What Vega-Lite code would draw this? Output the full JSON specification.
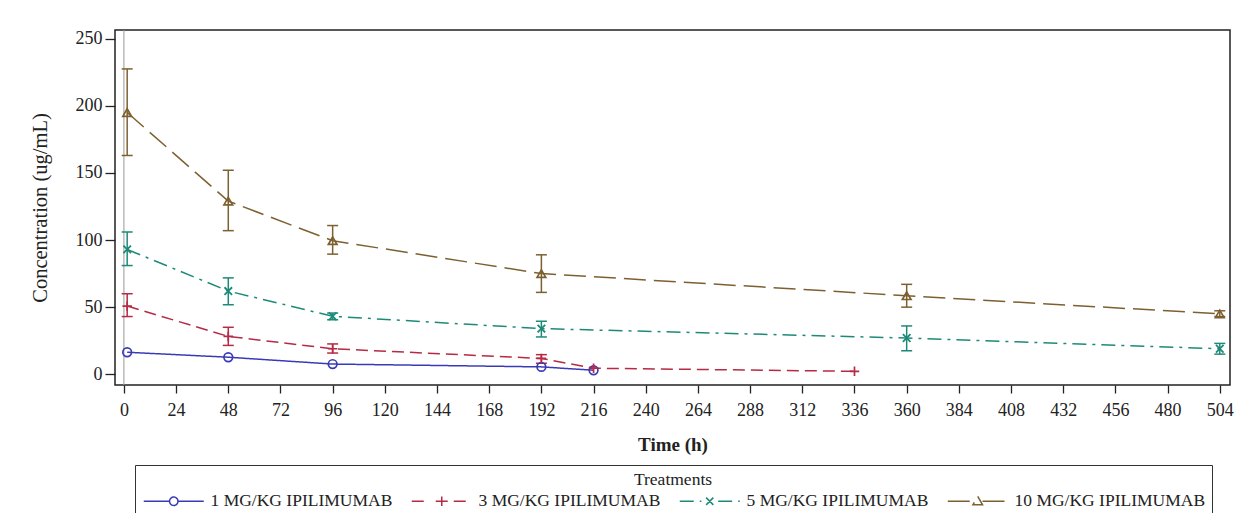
{
  "$schema": "https://vega.github.io/schema/vega-lite/v6.json",
  "autosize": {"type": "none"},
  "padding": {"left": 115, "top": 30, "right": 4, "bottom": 128},
  "width": 1115,
  "height": 355,
  "background": "white",
  "config": {
    "font": "Liberation Serif",
    "view": {"stroke": "#222", "strokeWidth": 1.5},
    "axis": {
      "grid": false,
      "domain": false,
      "tickColor": "#222",
      "tickWidth": 1.3,
      "labelColor": "#222",
      "titleColor": "#222",
      "labelFont": "Liberation Serif",
      "titleFont": "Liberation Serif",
      "labelFontSize": 18
    }
  },
  "layer": [
    {
      "data": {"values": [{"t": 0}]},
      "mark": {"type": "rule", "color": "#999", "strokeWidth": 1},
      "encoding": {
        "x": {"field": "t", "type": "quantitative", "scale": {"domain": [-4.1, 508.7], "nice": false, "zero": false}}
      }
    },
    {
      "data": {
        "values": [
          {"treatment": "1 MG/KG IPILIMUMAB", "time": 1.5, "conc": 16.4},
          {"treatment": "1 MG/KG IPILIMUMAB", "time": 48, "conc": 12.7},
          {"treatment": "1 MG/KG IPILIMUMAB", "time": 96, "conc": 7.6},
          {"treatment": "1 MG/KG IPILIMUMAB", "time": 192, "conc": 5.5},
          {"treatment": "1 MG/KG IPILIMUMAB", "time": 216, "conc": 3.0},
          {"treatment": "3 MG/KG IPILIMUMAB", "time": 1.5, "conc": 50.8, "lo": 43, "hi": 60},
          {"treatment": "3 MG/KG IPILIMUMAB", "time": 48, "conc": 28.2, "lo": 21.5, "hi": 35},
          {"treatment": "3 MG/KG IPILIMUMAB", "time": 96, "conc": 19, "lo": 15.8, "hi": 22.6},
          {"treatment": "3 MG/KG IPILIMUMAB", "time": 192, "conc": 11.8, "lo": 8.2, "hi": 14.6},
          {"treatment": "3 MG/KG IPILIMUMAB", "time": 216, "conc": 4.5},
          {"treatment": "3 MG/KG IPILIMUMAB", "time": 336, "conc": 2.2},
          {"treatment": "5 MG/KG IPILIMUMAB", "time": 1.5, "conc": 93, "lo": 81, "hi": 106},
          {"treatment": "5 MG/KG IPILIMUMAB", "time": 48, "conc": 62, "lo": 51.8, "hi": 71.8},
          {"treatment": "5 MG/KG IPILIMUMAB", "time": 96, "conc": 43.2, "lo": 40.6, "hi": 45.6},
          {"treatment": "5 MG/KG IPILIMUMAB", "time": 192, "conc": 34, "lo": 27.8, "hi": 39.5},
          {"treatment": "5 MG/KG IPILIMUMAB", "time": 360, "conc": 27, "lo": 17.5, "hi": 36},
          {"treatment": "5 MG/KG IPILIMUMAB", "time": 504, "conc": 19, "lo": 15, "hi": 23},
          {"treatment": "10 MG/KG IPILIMUMAB", "time": 1.5, "conc": 195, "lo": 163, "hi": 227.5},
          {"treatment": "10 MG/KG IPILIMUMAB", "time": 48, "conc": 129, "lo": 107, "hi": 152},
          {"treatment": "10 MG/KG IPILIMUMAB", "time": 96, "conc": 99.5, "lo": 89.5, "hi": 110.8},
          {"treatment": "10 MG/KG IPILIMUMAB", "time": 192, "conc": 75, "lo": 61, "hi": 89},
          {"treatment": "10 MG/KG IPILIMUMAB", "time": 360, "conc": 58.5, "lo": 50, "hi": 67},
          {"treatment": "10 MG/KG IPILIMUMAB", "time": 504, "conc": 45, "lo": 43, "hi": 47.3}
        ]
      },
      "encoding": {
        "x": {
          "field": "time",
          "type": "quantitative",
          "title": "Time (h)",
          "scale": {"domain": [-4.1, 508.7], "nice": false, "zero": false},
          "axis": {
            "values": [0, 24, 48, 72, 96, 120, 144, 168, 192, 216, 240, 264, 288, 312, 336, 360, 384, 408, 432, 456, 480, 504],
            "tickSize": 8,
            "labelPadding": 8,
            "titleFontSize": 19,
            "titleFontWeight": "bold",
            "titlePadding": 16
          }
        },
        "color": {
          "field": "treatment",
          "type": "nominal",
          "scale": {
            "domain": ["1 MG/KG IPILIMUMAB", "3 MG/KG IPILIMUMAB", "5 MG/KG IPILIMUMAB", "10 MG/KG IPILIMUMAB"],
            "range": ["#3a3ab8", "#b52a44", "#1d8a78", "#7d6030"]
          },
          "legend": {
            "title": "Treatments",
            "orient": "none",
            "legendX": 20,
            "legendY": 435,
            "direction": "horizontal",
            "columns": 4,
            "gridAlign": "none",
            "titleAnchor": "middle",
            "titleFontWeight": "normal",
            "titleFontSize": 17.5,
            "titleFont": "Liberation Serif",
            "titleColor": "#222",
            "titlePadding": 4,
            "labelFont": "Liberation Serif",
            "labelFontSize": 17.5,
            "labelColor": "#222",
            "labelLimit": 400,
            "symbolSize": 144,
            "symbolStrokeWidth": 1.5,
            "symbolFillColor": "transparent",
            "symbolOffset": 24,
            "labelOffset": 28,
            "columnPadding": 15,
            "padding": 6,
            "strokeColor": "#333"
          }
        }
      },
      "layer": [
        {
          "mark": {"type": "rule", "strokeWidth": 1.5},
          "encoding": {
            "y": {"field": "lo", "type": "quantitative"},
            "y2": {"field": "hi"}
          }
        },
        {
          "mark": {"type": "rule", "strokeWidth": 1.5, "xOffset": -5.5, "x2Offset": 5.5},
          "encoding": {"x2": {"field": "time"}, "y": {"field": "lo", "type": "quantitative"}}
        },
        {
          "mark": {"type": "rule", "strokeWidth": 1.5, "xOffset": -5.5, "x2Offset": 5.5},
          "encoding": {"x2": {"field": "time"}, "y": {"field": "hi", "type": "quantitative"}}
        },
        {
          "mark": {"type": "line", "strokeWidth": 1.5},
          "encoding": {
            "y": {
              "field": "conc",
              "type": "quantitative",
              "title": "Concentration (ug/mL)",
              "scale": {"domain": [-8, 256.5], "nice": false, "zero": false},
              "axis": {
                "values": [0, 50, 100, 150, 200, 250],
                "tickSize": 10,
                "labelPadding": 3,
                "titleFontSize": 20.5,
                "titleFontWeight": "normal",
                "titlePadding": 25
              }
            },
            "strokeDash": {
              "field": "treatment",
              "type": "nominal",
              "scale": {
                "domain": ["1 MG/KG IPILIMUMAB", "3 MG/KG IPILIMUMAB", "5 MG/KG IPILIMUMAB", "10 MG/KG IPILIMUMAB"],
                "range": [[1, 0], [12, 6], [14, 6, 3, 6], [22, 8]]
              },
              "legend": null
            }
          }
        },
        {
          "transform": [{"filter": "datum.treatment === '1 MG/KG IPILIMUMAB'"}],
          "mark": {"type": "point", "shape": "circle", "filled": false, "size": 75, "strokeWidth": 1.7, "opacity": 1},
          "encoding": {"y": {"field": "conc", "type": "quantitative"}}
        },
        {
          "transform": [{"filter": "datum.treatment === '3 MG/KG IPILIMUMAB'"}],
          "mark": {"type": "point", "shape": "M-1,0H1M0,-1V1", "filled": false, "size": 90, "strokeWidth": 1.7, "opacity": 1},
          "encoding": {"y": {"field": "conc", "type": "quantitative"}}
        },
        {
          "transform": [{"filter": "datum.treatment === '5 MG/KG IPILIMUMAB'"}],
          "mark": {"type": "point", "shape": "M-0.8,-0.8L0.8,0.8M-0.8,0.8L0.8,-0.8", "filled": false, "size": 90, "strokeWidth": 1.8, "opacity": 1},
          "encoding": {"y": {"field": "conc", "type": "quantitative"}}
        },
        {
          "transform": [{"filter": "datum.treatment === '10 MG/KG IPILIMUMAB'"}],
          "mark": {"type": "point", "shape": "triangle-up", "filled": false, "size": 75, "strokeWidth": 1.7, "opacity": 1},
          "encoding": {"y": {"field": "conc", "type": "quantitative"}}
        },
        {
          "transform": [{"filter": "datum.time < 0"}],
          "mark": {"type": "point", "filled": false, "size": 144, "strokeWidth": 1.5, "opacity": 1},
          "encoding": {
            "y": {"field": "conc", "type": "quantitative"},
            "shape": {
              "field": "treatment",
              "type": "nominal",
              "scale": {
                "domain": ["1 MG/KG IPILIMUMAB", "3 MG/KG IPILIMUMAB", "5 MG/KG IPILIMUMAB", "10 MG/KG IPILIMUMAB"],
                "range": [
                  "M-5,0H-0.7M0.7,0H5M-0.7,0A0.7,0.7 0 1,1 0.7,0A0.7,0.7 0 1,1 -0.7,0",
                  "M-5,0H-2M-1,0H1M0,-0.8V0.8M2,0H5",
                  "M-5,0H-1.4M-0.6,-0.6L0.6,0.6M-0.6,0.6L0.6,-0.6M1.4,0H5",
                  "M-5,0H-0.8M0,-0.8L0.8,0.6L-0.8,0.6ZM0.8,0H5"
                ]
              },
              "legend": null
            }
          }
        }
      ]
    }
  ]
}
